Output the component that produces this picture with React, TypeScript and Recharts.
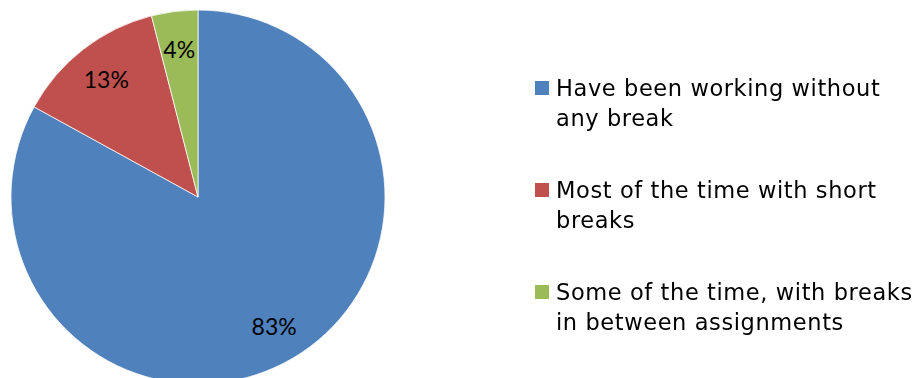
import React from 'react';
import { PieChart, Pie, Cell } from 'recharts';

const categories = [
  'Have been working without any break',
  'Most of the time with short breaks',
  'Some of the time, with breaks in between assignments',
];
const shares = [83, 13, 4];
const colors = ['#4F81BD', '#C0504D', '#9BBB59'];

const data = categories.map((name, i) => ({ name, value: shares[i] }));

const RAD = Math.PI / 180;

const renderLabel = (props: any) => {
  const { cx, cy, midAngle, outerRadius, value } = props;
  const r = outerRadius * 0.8;
  const x = cx + r * Math.cos(-midAngle * RAD);
  const y = cy + r * Math.sin(-midAngle * RAD);
  return (
    <text
      x={x}
      y={y}
      textAnchor="middle"
      dominantBaseline="central"
      fill="#000"
      style={{ fontFamily: 'Lato, sans-serif', fontSize: 23 }}
    >
      {value}%
    </text>
  );
};

function ChartLegend() {
  return (
    <div
      style={{
        position: 'absolute',
        left: 535,
        top: 73,
        fontFamily: '"DejaVu Sans", sans-serif',
        fontSize: 22.5,
        letterSpacing: 0.6,
        color: '#000',
      }}
    >
      {data.map((d, i) => (
        <div key={d.name} style={{ display: 'flex', alignItems: 'flex-start', marginBottom: 42 }}>
          <div style={{ width: 14, height: 14, background: colors[i], marginTop: 8, marginRight: 7, flexShrink: 0 }} />
          <div style={{ width: 366, lineHeight: '30px' }}>{d.name}</div>
        </div>
      ))}
    </div>
  );
}

export default function App() {
  return (
    <div style={{ position: 'fixed', left: 0, top: 0, width: 923, height: 378, background: '#fff' }}>
      <PieChart width={923} height={378} margin={{ top: 0, right: 0, bottom: 0, left: 0 }}>
        <Pie
          data={data}
          dataKey="value"
          nameKey="name"
          cx={198}
          cy={197}
          outerRadius={187}
          startAngle={90}
          endAngle={-270}
          stroke="#fff"
          strokeWidth={0.75}
          label={renderLabel}
          labelLine={false}
          isAnimationActive={false}
        >
          {data.map((d, i) => (
            <Cell key={d.name} fill={colors[i]} />
          ))}
        </Pie>
      </PieChart>
      <ChartLegend />
    </div>
  );
}
